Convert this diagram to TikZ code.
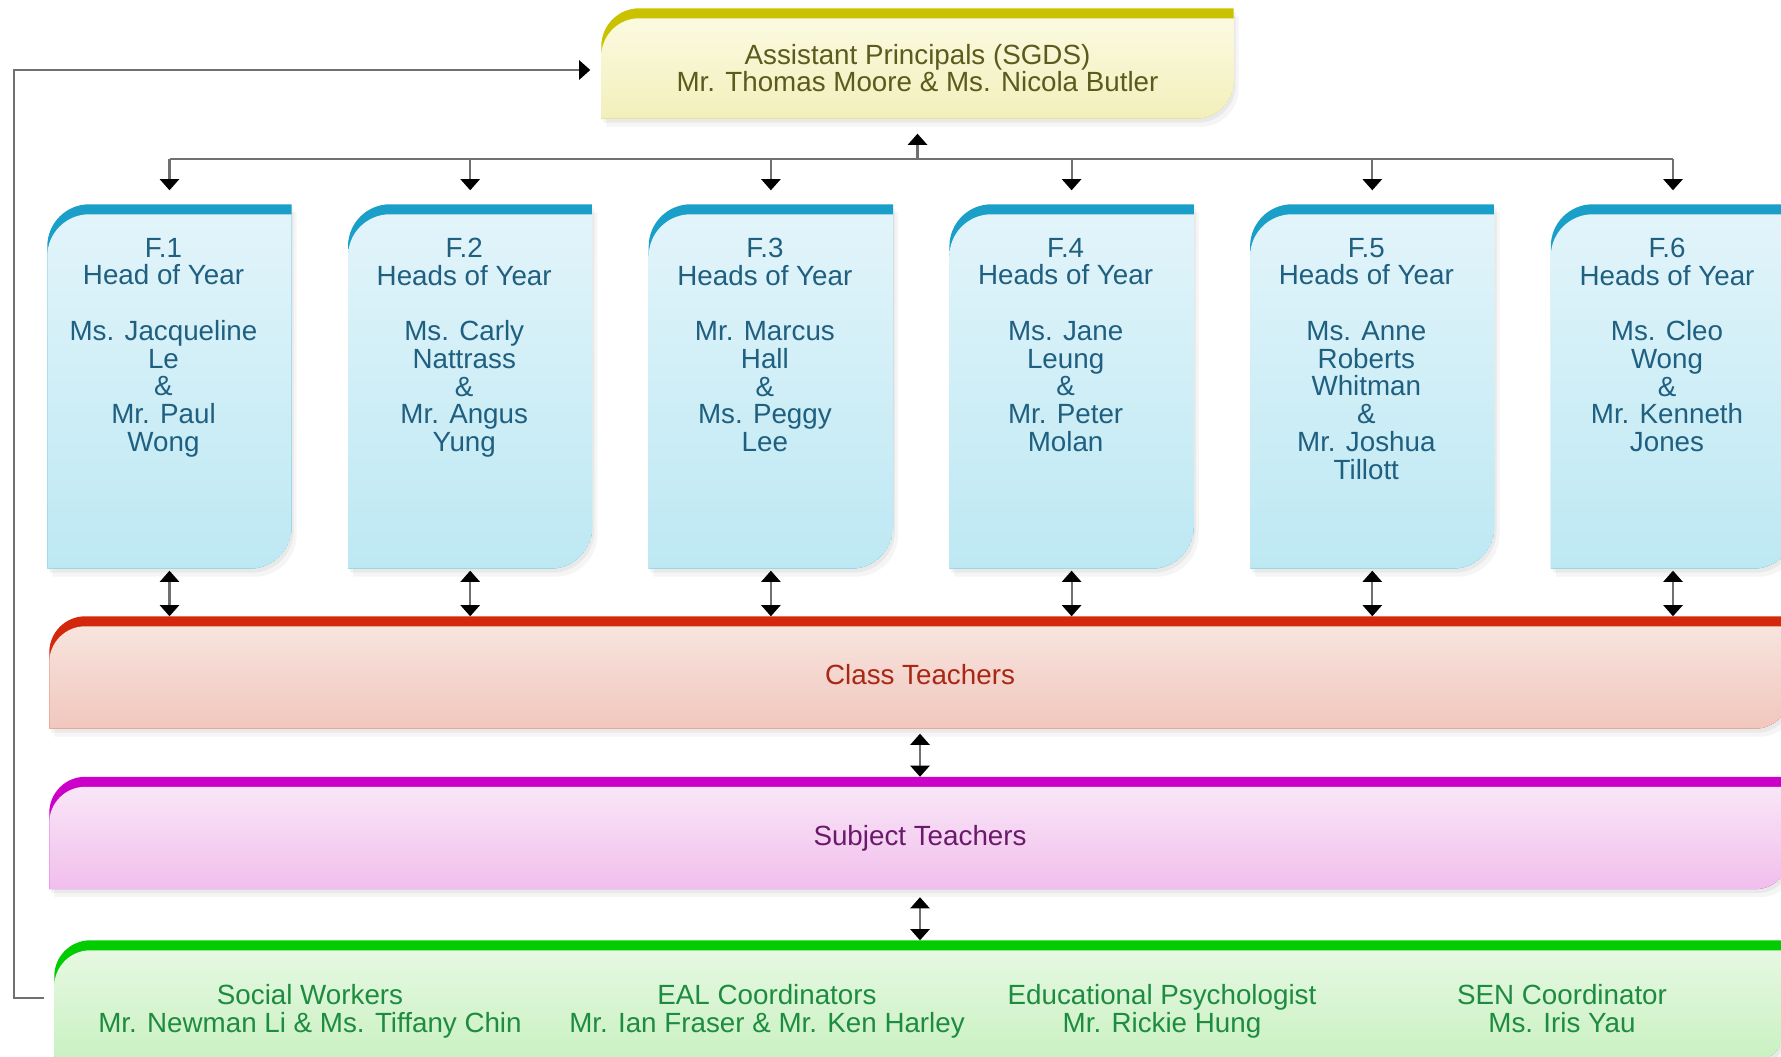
\documentclass[tikz,border=0pt]{standalone}
\usepackage{fontspec}
\setmainfont{Liberation Sans}
\usepackage{tikz}
\usetikzlibrary{arrows.meta,positioning,calc,backgrounds}
\definecolor{linegrey}{RGB}{112,112,112}
\definecolor{apbar}{RGB}{202,194,0}
\definecolor{aptop}{RGB}{251,250,224}
\definecolor{apbot}{RGB}{242,238,184}
\definecolor{aptext}{RGB}{92,90,28}
\definecolor{yrbar}{RGB}{26,160,200}
\definecolor{yrtop}{RGB}{226,244,250}
\definecolor{yrbot}{RGB}{188,232,243}
\definecolor{yrtext}{RGB}{31,95,128}
\definecolor{ctbar}{RGB}{212,40,12}
\definecolor{cttop}{RGB}{247,228,222}
\definecolor{ctbot}{RGB}{240,196,186}
\definecolor{cttext}{RGB}{168,40,20}
\definecolor{stbar}{RGB}{204,0,200}
\definecolor{sttop}{RGB}{249,230,247}
\definecolor{stbot}{RGB}{240,186,236}
\definecolor{sttext}{RGB}{107,26,107}
\definecolor{spbar}{RGB}{0,204,0}
\definecolor{sptop}{RGB}{230,248,226}
\definecolor{spbot}{RGB}{198,240,190}
\definecolor{sptext}{RGB}{30,140,64}
% card outline: round top-left and bottom-right corners
\newcommand{\cardpath}[2]{($(#1.south west)$) -- ($(#1.north west)+(0,-#2)$) arc[start angle=180,end angle=90,radius=#2] -- ($(#1.north east)$) -- ($(#1.south east)+(0,#2)$) arc[start angle=0,end angle=-90,radius=#2] -- cycle}
\newcommand{\drawcard}[5]{%
  \fill[black,opacity=0.05,transform canvas={shift={(0.02,-0.04)}}] \cardpath{#1}{#2};
  \fill[black,opacity=0.04,transform canvas={shift={(0.05,-0.08)}}] \cardpath{#1}{#2};
  \begin{scope}
    \clip \cardpath{#1}{#2};
    \fill[#3] \cardpath{#1}{#2};
    \shade[top color=#4,bottom color=#5,transform canvas={yshift=-1mm}] \cardpath{#1}{#2};
  \end{scope}}
\tikzset{
  base/.style={font=\fontsize{7.9}{7.9}\selectfont, align=center, inner sep=0pt},
  apbox/.style={base, rectangle, minimum width=6.31cm, minimum height=1.09cm},
  aptxt/.style={base, text=aptext, yshift=-0.045cm},
  yearbox/.style={base, rectangle, minimum width=2.43cm, minimum height=3.63cm},
  yeartext/.style={base, text=yrtext, anchor=north, yshift=-0.33cm, xshift=-0.06cm},
  band/.style={base, rectangle, minimum width=17.40cm, minimum height=1.11cm, text height=7pt, text depth=0pt},
  sptxt/.style={base, text=sptext},
  wire/.style={line width=0.6pt, draw=linegrey},
  arr/.style={wire, -{Triangle[width=5.5pt,length=3.2pt,color=black]}},
  arr2/.style={wire, {Triangle[width=5.5pt,length=3.2pt,color=black]}-{Triangle[width=5.5pt,length=3.2pt,color=black]}},
}
\begin{document}
\begin{tikzpicture}
  \useasboundingbox (0,0) rectangle (17.81,10.56);
  \node[apbox,label={[aptxt]center:{Assistant Principals (SGDS)\\Mr. Thomas Moore \& Ms. Nicola Butler}}] (ap) at (9.175,9.925) {};
  \node[yearbox,label={[yeartext]north:{F.1\\Head of Year\\[7.9pt]Ms. Jacqueline\\Le\\\&\\Mr. Paul\\Wong}}] (f1) at (1.695,6.695) {};
  \node[yearbox,label={[yeartext]north:{F.2\\Heads of Year\\[7.9pt]Ms. Carly\\Nattrass\\\&\\Mr. Angus\\Yung}}] (f2) at (4.702,6.695) {};
  \node[yearbox,label={[yeartext]north:{F.3\\Heads of Year\\[7.9pt]Mr. Marcus\\Hall\\\&\\Ms. Peggy\\Lee}}] (f3) at (7.709,6.695) {};
  \node[yearbox,label={[yeartext]north:{F.4\\Heads of Year\\[7.9pt]Ms. Jane\\Leung\\\&\\Mr. Peter\\Molan}}] (f4) at (10.716,6.695) {};
  \node[yearbox,label={[yeartext]north:{F.5\\Heads of Year\\[7.9pt]Ms. Anne\\Roberts\\Whitman\\\&\\Mr. Joshua\\Tillott}}] (f5) at (13.723,6.695) {};
  \node[yearbox,label={[yeartext]north:{F.6\\Heads of Year\\[7.9pt]Ms. Cleo\\Wong\\\&\\Mr. Kenneth\\Jones}}] (f6) at (16.730,6.695) {};
  \node[band,text=cttext] (ct) at (9.20,3.835) {Class Teachers};
  \node[band,text=sttext] (st) at (9.20,2.23) {Subject Teachers};
  \node[band,minimum width=17.30cm,minimum height=1.21cm] (sp) at (9.20,0.545) {};
  \node[sptxt] (sw) at (3.10,0.445) {Social Workers\\Mr. Newman Li \& Ms. Tiffany Chin};
  \node[sptxt] (eal) at (7.67,0.445) {EAL Coordinators\\Mr. Ian Fraser \& Mr. Ken Harley};
  \node[sptxt] (ep) at (11.62,0.445) {Educational Psychologist\\Mr. Rickie Hung};
  \node[sptxt] (sen) at (15.62,0.475) {SEN Coordinator\\Ms. Iris Yau};
  % connectors
  \coordinate (bus) at (9.175,8.97);
  \draw[wire] (f1.north |- bus) -- (f6.north |- bus);
  \draw[arr,shorten >=0.15cm] (bus) -- (ap);
  \foreach \n in {f1,f2,f3,f4,f5,f6}{\draw[arr,shorten >=0.14cm] (\n.north |- bus) -- (\n);}
  \foreach \n in {f1,f2,f3,f4,f5,f6}{\draw[arr2,shorten <=0.02cm] (\n.south) -- (\n.south |- ct.north);}
  \draw[arr2,shorten <=0.05cm] (ct) -- (st);
  \draw[arr2,shorten <=0.08cm] (st) -- (sp);
  \draw[arr,shorten <=0.1cm,shorten >=0.11cm] ([yshift=0.35mm]sp.west) -- ++(-0.40,0) |- ([yshift=-0.65mm]ap.west);
  % card shapes behind the text
  \begin{scope}[on background layer]
    \clip (0,0) rectangle (17.81,10.56);
    \drawcard{ap}{0.38}{apbar}{aptop}{apbot}
    \foreach \n in {f1,f2,f3,f4,f5,f6}{\drawcard{\n}{0.42}{yrbar}{yrtop}{yrbot}}
    \drawcard{ct}{0.36}{ctbar}{cttop}{ctbot}
    \drawcard{st}{0.36}{stbar}{sttop}{stbot}
    \drawcard{sp}{0.36}{spbar}{sptop}{spbot}
  \end{scope}
\end{tikzpicture}
\end{document}
